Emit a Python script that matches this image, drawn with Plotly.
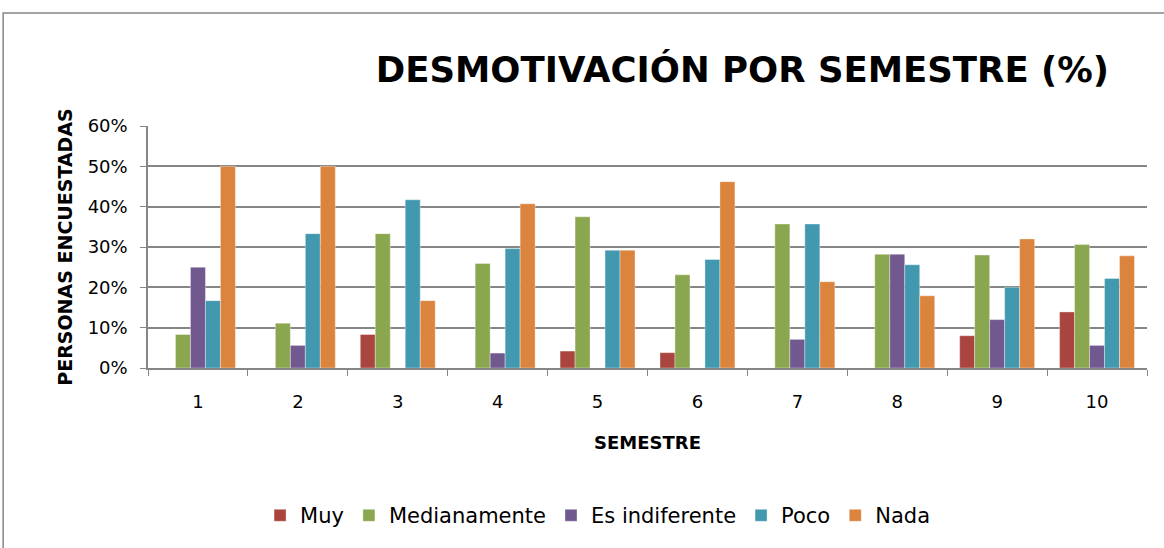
import plotly.graph_objects as go

semestres = ["1", "2", "3", "4", "5", "6", "7", "8", "9", "10"]
muy = [0, 0, 8.3, 0, 4.2, 3.8, 0, 0, 8.0, 13.9]
medianamente = [8.3, 11.1, 33.3, 25.9, 37.5, 23.1, 35.7, 28.2, 28.0, 30.6]
indiferente = [25.0, 5.6, 0, 3.7, 0, 0, 7.1, 28.2, 12.0, 5.6]
poco = [16.7, 33.3, 41.7, 29.6, 29.2, 26.9, 35.7, 25.6, 20.0, 22.2]
nada = [50.0, 50.0, 16.7, 40.7, 29.2, 46.2, 21.4, 17.9, 32.0, 27.8]

series = [
    ("Muy", muy, "#A9443F"),
    ("Medianamente", medianamente, "#8AA64E"),
    ("Es indiferente", indiferente, "#71588F"),
    ("Poco", poco, "#4198AF"),
    ("Nada", nada, "#DB843D"),
]

FONT = "DejaVu Sans"

fig = go.Figure()
for name, vals, color in series:
    fig.add_trace(go.Bar(
        x=semestres, y=[v / 100 for v in vals], name=name,
        marker=dict(color=color, line=dict(color="rgba(255,255,255,0.6)", width=0.6)),
    ))

fig.update_layout(
    width=1164, height=548,
    paper_bgcolor="white", plot_bgcolor="white",
    margin=dict(l=148, r=17, t=126, b=180),
    barmode="group", bargap=0.25, bargroupgap=0,
    font=dict(family=FONT, color="black", size=18),
    title=dict(
        text="<b>DESMOTIVACIÓN POR SEMESTRE (%)</b>",
        font=dict(family=FONT, size=35.5, color="black"),
        x=0.595, xref="paper", xanchor="center",
        y=1 - 70 / 548, yref="container", yanchor="middle",
    ),
    xaxis=dict(
        type="category", tickson="boundaries", ticks="outside", ticklen=6,
        tickcolor="#868686", showline=True, linecolor="#868686", linewidth=1.5,
        showgrid=False, tickfont=dict(size=18), ticklabelstandoff=17,
        title=dict(text="<b>SEMESTRE</b>", font=dict(size=18), standoff=25),
    ),
    yaxis=dict(
        range=[0, 0.6], dtick=0.1, tickformat=".0%",
        showgrid=True, gridcolor="#868686", gridwidth=1.5,
        showline=True, linecolor="#868686", linewidth=1.5,
        ticks="outside", ticklen=6, tickcolor="#868686",
        tickfont=dict(size=18), zeroline=False, ticklabelstandoff=9,
        title=dict(text="<b>PERSONAS ENCUESTADAS</b>", font=dict(size=19), standoff=10),
    ),
    legend=dict(
        orientation="h", x=0.45, xanchor="center", y=-0.61, yanchor="middle",
        font=dict(size=21), itemwidth=30, traceorder="normal",
    ),
)

fig.add_shape(
    type="rect", xref="paper", yref="paper",
    x0=-0.145, x1=1.1, y0=-1.0, y1=1.467,
    line=dict(color="#868686", width=1.5), fillcolor="rgba(0,0,0,0)", layer="below",
)

fig.write_html("out.html", config={"displayModeBar": False},
               post_script="document.body.style.margin='0';")
